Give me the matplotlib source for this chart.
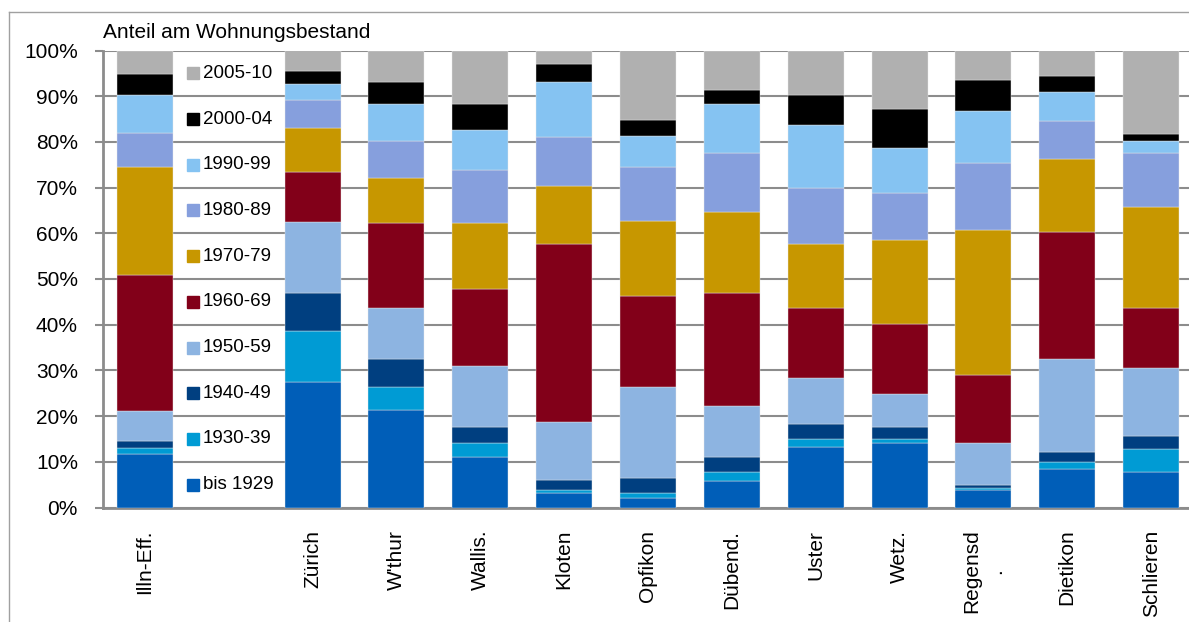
import numpy as np
import matplotlib
matplotlib.use('Agg')
import matplotlib.pyplot as plt
from matplotlib.lines import Line2D

plt.rcParams['font.family'] = ['Liberation Sans', 'DejaVu Sans']

# Gemeinden, mit einer Lücke nach Illn-Eff. für die Legende
gemeinden = ['Illn-Eff.', '', 'Zürich', "W'thur", 'Wallis.', 'Kloten', 'Opfikon',
             'Dübend.', 'Uster', 'Wetz.', 'Regensd\n.', 'Dietikon', 'Schlieren']

perioden = ['bis 1929', '1930-39', '1940-49', '1950-59', '1960-69',
            '1970-79', '1980-89', '1990-99', '2000-04', '2005-10']

farben = ['#005eb8', '#009bd4', '#003f80', '#8db4e1', '#820019',
          '#c79700', '#869fdd', '#85c3f2', '#000000', '#b0b0b0']

# Anteile in % je Bauperiode (Reihenfolge wie gemeinden, Lücke = nan)
nan = np.nan
bis_1929 = [11.8, nan, 27.5, 21.4, 11.1, 3.1, 2.0, 5.7, 13.3, 14.1, 3.9, 8.5, 7.7]
p1930_39 = [1.3, nan, 11.2, 5.0, 3.0, 0.8, 1.2, 2.0, 1.6, 0.8, 0.4, 1.5, 5.1]
p1940_49 = [1.5, nan, 8.3, 6.0, 3.5, 2.1, 3.3, 3.4, 3.4, 2.7, 0.6, 2.2, 2.9]
p1950_59 = [6.5, nan, 15.4, 11.2, 13.4, 12.7, 19.9, 11.1, 10.1, 7.3, 9.3, 20.3, 14.9]
p1960_69 = [29.8, nan, 11.1, 18.6, 16.8, 39.0, 19.9, 24.7, 15.2, 15.3, 14.9, 27.8, 13.1]
p1970_79 = [23.7, nan, 9.6, 10.0, 14.4, 12.6, 16.4, 17.7, 14.1, 18.3, 31.7, 15.9, 22.0]
p1980_89 = [7.3, nan, 6.1, 8.1, 11.6, 10.7, 11.8, 13.0, 12.2, 10.3, 14.5, 8.3, 11.9]
p1990_99 = [8.4, nan, 3.4, 8.0, 8.8, 12.2, 6.8, 10.7, 13.8, 9.9, 11.4, 6.5, 2.6]
p2000_04 = [4.6, nan, 3.0, 4.9, 5.6, 3.8, 3.5, 3.0, 6.5, 8.4, 6.9, 3.4, 1.6]
p2005_10 = [5.1, nan, 4.4, 6.8, 11.8, 3.0, 15.2, 8.7, 9.8, 12.9, 6.4, 5.6, 18.2]

reihen = [bis_1929, p1930_39, p1940_49, p1950_59, p1960_69,
          p1970_79, p1980_89, p1990_99, p2000_04, p2005_10]

fig = plt.figure(figsize=(11.89, 6.22), dpi=100)
ax = fig.add_axes([103 / 1189, 114.5 / 622, 1090 / 1189, 457 / 622])

x = np.arange(len(gemeinden))
unten = np.zeros(len(gemeinden))
for werte, farbe in zip(reihen, farben):
    werte = np.array(werte)
    ax.bar(x, werte, width=0.667, bottom=unten, color=farbe,
           edgecolor='#e8e8e8', linewidth=0.3, zorder=3)
    unten = unten + np.nan_to_num(werte)

ax.set_xlim(-0.5, 12.5)
ax.set_ylim(0, 100)
ax.set_yticks(np.arange(0, 101, 10))
ax.set_yticklabels([f'{v}%' for v in range(0, 101, 10)], fontsize=15)
ax.set_xticks(x)
ax.set_xticklabels(gemeinden, rotation=90, fontsize=15, va='top',
                   ha='center', multialignment='center', linespacing=1.3)
ax.tick_params(axis='x', length=0, pad=16)
ax.tick_params(axis='y', length=6, width=1.5, color='#8c8c8c', pad=12)

ax.grid(axis='y', color='#8c8c8c', linewidth=1.5, zorder=0)
ax.set_axisbelow(True)
for s in ['top', 'right']:
    ax.spines[s].set_visible(False)
for s in ['left', 'bottom']:
    ax.spines[s].set_color('#8c8c8c')
    ax.spines[s].set_linewidth(2)

# Legende in der Lücke, je Eintrag ein 10%-Band
for i, (name, farbe) in enumerate(zip(perioden, farben)):
    y = 5 + 10 * i
    ax.plot([0.575], [y], marker='s', markersize=8, color=farbe,
            linestyle='none', zorder=4)
    ax.text(0.69, y, name, fontsize=13.5, va='center', ha='left', zorder=4)

fig.text(103 / 1189, 1 - 38 / 622, 'Anteil am Wohnungsbestand',
         fontsize=15, ha='left', va='baseline')

# Rahmen des Diagrammbereichs
fig.add_artist(Line2D([9 / 1189, 9 / 1189], [0, 1 - 12 / 622],
                      transform=fig.transFigure, color='#a0a0a0', linewidth=1))
fig.add_artist(Line2D([9 / 1189, 1], [1 - 12 / 622, 1 - 12 / 622],
                      transform=fig.transFigure, color='#a0a0a0', linewidth=1))

fig.savefig('out.png', dpi=100)
